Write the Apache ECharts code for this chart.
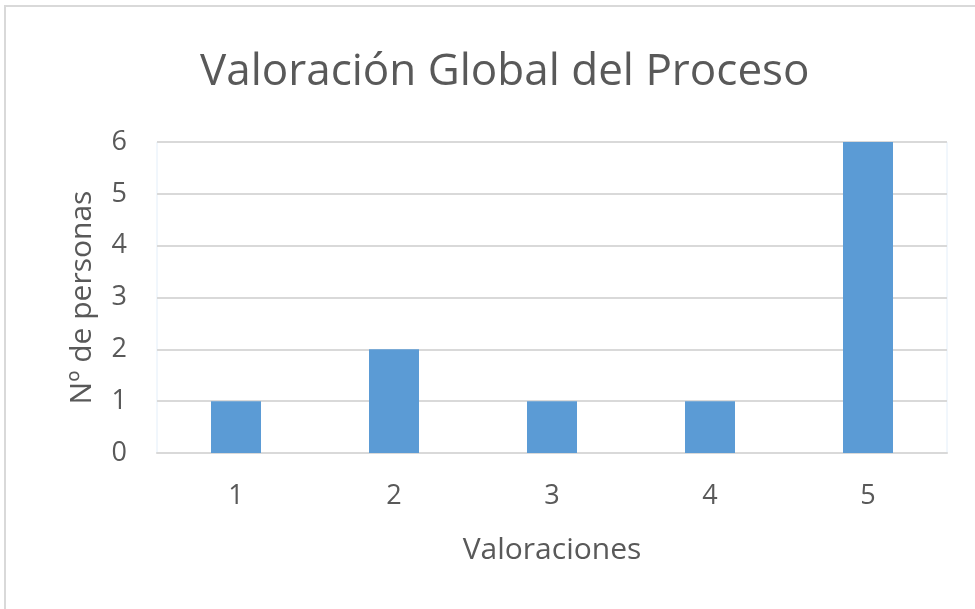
<!DOCTYPE html>
<html><head><meta charset="utf-8">
<script src="https://cdn.jsdelivr.net/npm/echarts@6/dist/echarts.min.js"></script>
<style>html,body{margin:0;padding:0;background:#fff}#c{width:975px;height:609px}</style>
</head><body><div id="c"></div>
<script>
const categories = ['1','2','3','4','5'];
const values = [1, 2, 1, 1, 6];
const titleText = 'Valoración Global del Proceso';
const xName = 'Valoraciones';
const yName = 'Nº de personas';

const chart = echarts.init(document.getElementById('c'), null, {renderer:'canvas'});
const font = 'Open Sans';
chart.setOption({
  animation:false,
  backgroundColor:'#fff',
  graphic:[{type:'rect', shape:{x:5,y:6,width:975,height:610}, style:{fill:'none', stroke:'#d9d9d9', lineWidth:2}, silent:true}],
  title:{text:titleText, left:195, top:45, textStyle:{fontFamily:font, fontSize:44, fontWeight:'normal', color:'#595959'}},
  grid:{left:157, right:28, top:142, bottom:156, show:true, borderColor:'#e3eef9', borderWidth:1},
  xAxis:{type:'category', data:categories, name:xName, nameLocation:'middle', nameGap:82,
    nameTextStyle:{fontFamily:font, fontSize:30, color:'#595959'},
    axisLine:{lineStyle:{color:'#d9d9d9', width:2}}, axisTick:{show:false},
    axisLabel:{fontFamily:font, fontSize:27, color:'#595959', margin:30}},
  yAxis:{type:'value', min:0, max:6, interval:1, name:yName, nameLocation:'middle', nameGap:60,
    nameTextStyle:{fontFamily:font, fontSize:30, color:'#595959'},
    axisLine:{show:false}, axisTick:{show:false},
    axisLabel:{fontFamily:font, fontSize:27, color:'#595959', margin:30},
    splitLine:{lineStyle:{color:'#d9d9d9', width:2}}},
  series:[{type:'bar', data:values, barWidth:50, itemStyle:{color:'#5b9bd5'}}]
});
</script></body></html>
